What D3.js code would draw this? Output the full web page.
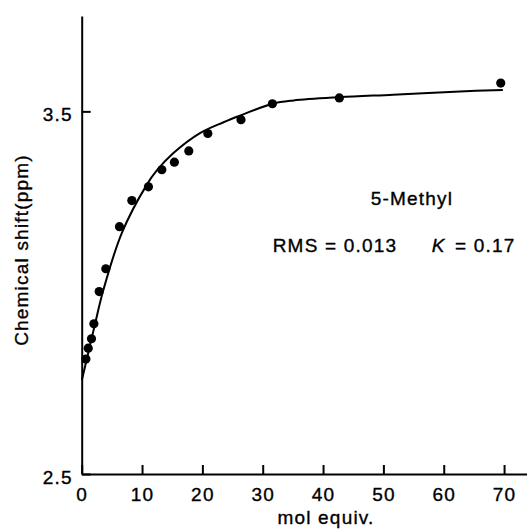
<!doctype html>
<html lang="en">
<head>
    <meta charset="utf-8"/>
    <title>5-Methyl chemical shift</title>
    <style>
        body { margin: 0; background: #fff; }
        svg text {
            font-family: "Liberation Sans", Arial, Helvetica, sans-serif;
            font-size: 19px;
            letter-spacing: 1.2px;
            fill: #000;
            stroke: #000;
            stroke-width: 0.35px;
        }
        .axis path, .axis line { stroke: #000; stroke-width: 2px; }
    </style>
    <script src="https://d3js.org/d3.v7.min.js"></script>
</head>
<body>
<svg width="527" height="529"></svg>
<script>

    // measured points (mol equiv., ppm)
    var pointX = [0.70, 1.08, 1.62, 2.02, 2.90, 4.0, 6.26, 8.31, 11.06, 13.28, 15.36, 17.75, 20.9, 26.4, 31.6, 42.7, 69.45];
    var pointY = [2.817, 2.847, 2.873, 2.914, 3.003, 3.066, 3.182, 3.254, 3.292, 3.339, 3.36, 3.391, 3.439, 3.477, 3.521, 3.537, 3.578];

    // fitted curve
    var fitX = [0.03, 1.0, 2.24, 3.6, 6.66, 10.8, 12.45, 15.2, 19.6, 23.5, 26.2, 31.65, 35.1, 42.7, 51.6, 62.7, 69.8];
    var fitY = [2.759, 2.828, 2.916, 3.008, 3.165, 3.298, 3.337, 3.385, 3.44, 3.47, 3.488, 3.521, 3.53, 3.539, 3.546, 3.555, 3.559];

    var xTicks = [0, 10, 20, 30, 40, 50, 60, 70];
    var yTicks = [2.5, 3.5];

    var svg = d3.select("svg");

    var x = d3.scaleLinear().domain([0, 73.8]).range([81.7, 527]);
    var y = d3.scaleLinear().domain([2.5, 3.763]).range([474, 16]);

    var points = pointX.map(function(d, i) { return [d, pointY[i]]; });
    var fit = fitX.map(function(d, i) { return [d, fitY[i]]; });

    svg.append("g")
       .attr("class", "axis")
       .attr("transform", "translate(0,474)")
       .call(d3.axisBottom(x).tickValues(xTicks).tickSizeInner(-9).tickSizeOuter(0).tickPadding(14))
       .call(function(g) {
           g.selectAll("text").attr("font-family", null).attr("font-size", null);
       });

    svg.append("g")
       .attr("class", "axis")
       .attr("transform", "translate(81.7,0)")
       .call(d3.axisLeft(y).tickValues(yTicks).tickFormat(d3.format(".1f")).tickSizeInner(-9).tickSizeOuter(0).tickPadding(9))
       .call(function(g) {
           g.selectAll("text").attr("font-family", null).attr("font-size", null).attr("dy", "0.48em");
       });

    svg.select(".axis").raise();

    var line = d3.line()
        .x(function(d) { return x(d[0]); })
        .y(function(d) { return y(d[1]); })
        .curve(d3.curveCatmullRom.alpha(0.5));

    svg.append("path")
       .datum(fit)
       .attr("d", line)
       .attr("fill", "none")
       .attr("stroke", "#000")
       .attr("stroke-width", 2);

    svg.selectAll(".dot")
       .data(points)
       .enter().append("circle")
       .attr("class", "dot")
       .attr("cx", function(d) { return x(d[0]); })
       .attr("cy", function(d) { return y(d[1]); })
       .attr("r", 4.6)
       .attr("fill", "#000");

    svg.append("text")
       .attr("x", 412)
       .attr("y", 205)
       .attr("text-anchor", "middle")
       .text("5-Methyl");

    svg.append("text")
       .attr("x", 272.7)
       .attr("y", 252)
       .text("RMS = 0.013");

    svg.append("text")
       .attr("x", 431.7)
       .attr("y", 252)
       .attr("font-style", "italic")
       .text("K");

    svg.append("text")
       .attr("x", 455)
       .attr("y", 252)
       .text("= 0.17");

    svg.append("text")
       .attr("x", 326)
       .attr("y", 524)
       .attr("text-anchor", "middle")
       .text("mol equiv.");

    svg.append("text")
       .attr("transform", "translate(28,250) rotate(-90)")
       .attr("text-anchor", "middle")
       .text("Chemical shift(ppm)");

</script>
</body>
</html>
